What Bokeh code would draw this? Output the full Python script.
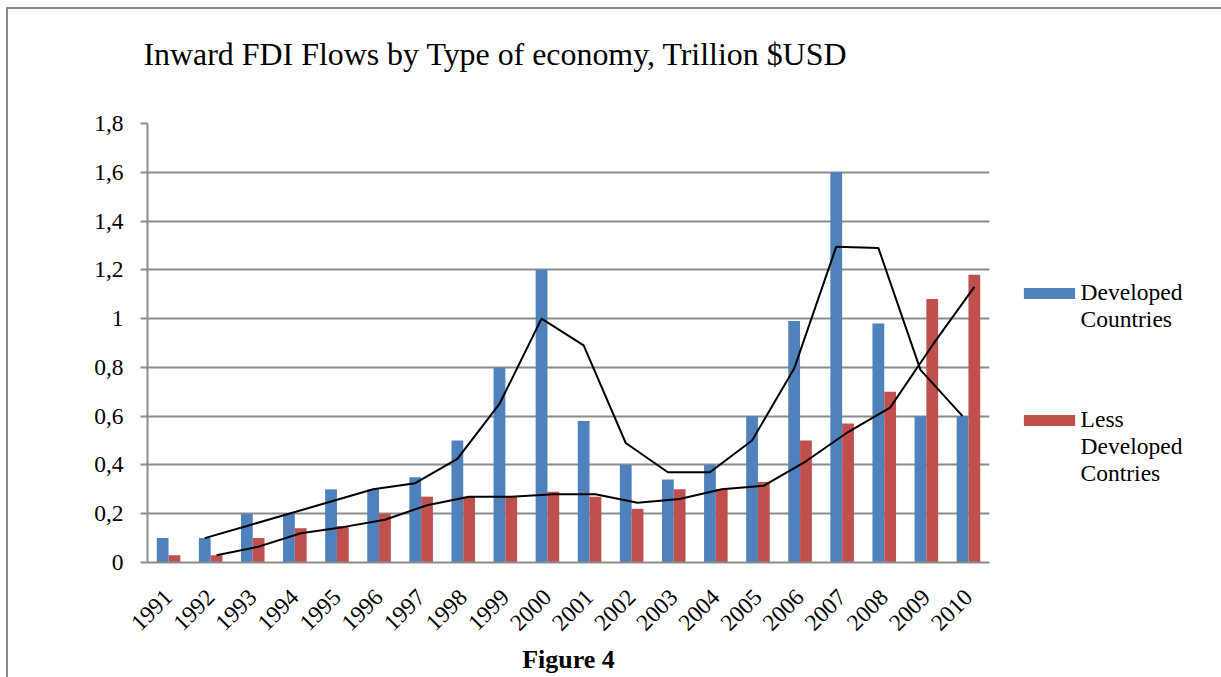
import math
from bokeh.plotting import figure
from bokeh.layouts import row, column
from bokeh.models import (FactorRange, Range1d, FixedTicker, Title, Legend, LegendItem,
                          ColumnDataSource)
from bokeh.transform import dodge
from bokeh.embed import file_html
from bokeh.resources import INLINE

years = [str(y) for y in range(1991, 2011)]
developed = [0.1, 0.1, 0.2, 0.2, 0.3, 0.3, 0.35, 0.5, 0.8, 1.2, 0.58, 0.4, 0.34, 0.4, 0.6, 0.99, 1.6, 0.98, 0.6, 0.6]
less_developed = [0.03, 0.03, 0.1, 0.14, 0.15, 0.2, 0.27, 0.27, 0.27, 0.29, 0.27, 0.22, 0.3, 0.3, 0.33, 0.5, 0.57, 0.7, 1.08, 1.18]
ma_years = years[1:]
developed_ma = [0.1, 0.15, 0.2, 0.25, 0.3, 0.325, 0.425, 0.65, 1.0, 0.89, 0.49, 0.37, 0.37, 0.5, 0.795, 1.295, 1.29, 0.79, 0.6]
less_developed_ma = [0.03, 0.065, 0.12, 0.145, 0.175, 0.235, 0.27, 0.27, 0.28, 0.28, 0.245, 0.26, 0.3, 0.315, 0.415, 0.535, 0.635, 0.89, 1.13]
y_ticks = [0, 0.2, 0.4, 0.6, 0.8, 1.0, 1.2, 1.4, 1.6, 1.8]
y_tick_labels = ["0", "0,2", "0,4", "0,6", "0,8", "1", "1,2", "1,4", "1,6", "1,8"]
title_text = "Inward FDI Flows by Type of economy, Trillion $USD"
caption_text = "Figure 4"
legend_lines_1 = ["Developed", "Countries"]
legend_lines_2 = ["Less", "Developed", "Contries"]

BLUE = "#4F81BD"
RED = "#C0504D"
GRAY = "#8C8C8C"
FONT = "Liberation Serif"

# page geometry (the whole chart sits inside a grey top/left border)
OX, OY = 8, 9                    # content origin after the border
SPLIT = 1010                     # page x where the legend panel starts
HT = 95                          # height of the title strip
HP = 613                         # height of the plot row (runs a little past the window)
W_ALL = 1221 - OX
W1 = SPLIT - OX
W2 = 1221 - SPLIT
TOP = OY + HT                    # page y of the plot row
FL, FR, FT, FB = 147 - OX, 989 - OX, 123 - TOP, 562 - TOP

# title strip
t = figure(width=W_ALL, height=HT, output_backend="svg", toolbar_location=None,
           x_axis_type=None, y_axis_type=None, min_border=0, min_border_left=FL,
           min_border_right=W_ALL - FR)
t.outline_line_color = None
t.xgrid.grid_line_color = None
t.ygrid.grid_line_color = None
t.background_fill_color = "white"
t.border_fill_color = "white"
t.title.text = title_text
t.title.text_font = FONT
t.title.text_font_size = "31.9px"
t.title.text_font_style = "normal"
t.title.text_color = "black"
t.title.align = "left"
t.title.offset = -4
t.title.standoff = 50

# main chart
p = figure(width=W1, height=HP, x_range=FactorRange(*years, range_padding=0),
           y_range=Range1d(0, 1.8), output_backend="svg", toolbar_location=None,
           min_border_left=FL, min_border_right=W1 - FR, min_border_top=FT, min_border_bottom=HP - FB)
p.outline_line_color = None
p.background_fill_color = "white"
p.border_fill_color = "white"

bars = ColumnDataSource(dict(year=years, dev=developed, less=less_developed))
p.vbar(x=dodge("year", -0.14, range=p.x_range), top="dev", width=0.28, source=bars,
       fill_color=BLUE, line_color=None)
p.vbar(x=dodge("year", 0.14, range=p.x_range), top="less", width=0.28, source=bars,
       fill_color=RED, line_color=None)

ma = ColumnDataSource(dict(year=ma_years, dev=developed_ma, less=less_developed_ma))
p.line(x=dodge("year", -0.14, range=p.x_range), y="dev", source=ma, line_color="black", line_width=2)
p.line(x=dodge("year", 0.14, range=p.x_range), y="less", source=ma, line_color="black", line_width=2)

p.xgrid.grid_line_color = None
p.ygrid.grid_line_color = GRAY
p.ygrid.grid_line_width = 2
p.yaxis.ticker = FixedTicker(ticks=y_ticks)
p.yaxis.major_label_overrides = {t_: l for t_, l in zip(y_ticks, y_tick_labels)}
p.yaxis.minor_tick_line_color = None
p.yaxis.major_tick_in = 0
p.yaxis.major_tick_out = 7
p.yaxis.major_tick_line_color = GRAY
p.yaxis.major_tick_line_width = 2
p.yaxis.axis_line_color = GRAY
p.yaxis.axis_line_width = 2
p.yaxis.major_label_text_font = FONT
p.yaxis.major_label_text_font_size = "23.5px"
p.yaxis.major_label_text_color = "black"
p.yaxis.major_label_standoff = 17

p.xaxis.axis_line_color = GRAY
p.xaxis.axis_line_width = 2
p.xaxis.major_tick_line_color = None
p.xaxis.major_tick_out = 0
p.xaxis.major_label_orientation = math.pi / 4
p.xaxis.major_label_text_font = FONT
p.xaxis.major_label_text_font_size = "23.5px"
p.xaxis.major_label_text_color = "black"
p.xaxis.major_label_standoff = 31

p.add_layout(Title(text=caption_text, text_font=FONT, text_font_size="26px", text_font_style="bold",
                   text_color="black", align="center", offset=-2, standoff=4), "below")

# legend panel: a second canvas holding only the legends
q = figure(width=W2, height=HP, x_range=Range1d(0, 1), y_range=Range1d(0, 1),
           output_backend="svg", toolbar_location=None, x_axis_type=None, y_axis_type=None,
           min_border=0)
q.outline_line_color = None
q.xgrid.grid_line_color = None
q.ygrid.grid_line_color = None
q.background_fill_color = "white"
q.border_fill_color = "white"
k_dev = q.vbar(x=[5], top=[1], width=0.1, fill_color=BLUE, line_color=None)
k_less = q.vbar(x=[5], top=[1], width=0.1, fill_color=RED, line_color=None)
k_blank = q.line(x=[5, 6], y=[5, 6], line_alpha=0)

legend_style = dict(orientation="vertical", label_text_font=FONT, label_text_font_size="23.5px",
                    label_text_color="black", glyph_width=64, glyph_height=14, label_height=26,
                    label_standoff=0, spacing=-3, padding=0, margin=0, border_line_color=None,
                    background_fill_alpha=0)

items_1 = [LegendItem(label=legend_lines_1[0], renderers=[k_dev])] + \
          [LegendItem(label=s, renderers=[k_blank]) for s in legend_lines_1[1:]]
items_2 = [LegendItem(label=legend_lines_2[0], renderers=[k_less])] + \
          [LegendItem(label=s, renderers=[k_blank]) for s in legend_lines_2[1:]]

q.add_layout(Legend(items=items_1, location=(1023 - 6.4 - SPLIT, 229), **legend_style))
q.add_layout(Legend(items=items_2, location=(1023 - 6.4 - SPLIT, 75), **legend_style))

layout = column(t, row(p, q, spacing=0), spacing=0,
                styles={"border-top": "2px solid #888888", "border-left": "2px solid #888888",
                        "margin-left": "6px", "margin-top": "7px"})

open("out.html", "w").write(file_html(layout, INLINE))
